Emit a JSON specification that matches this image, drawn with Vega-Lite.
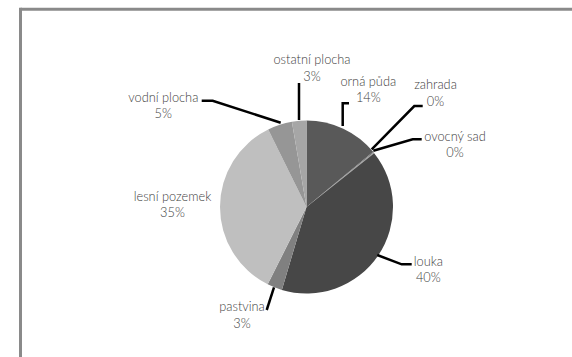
{
  "$schema": "https://vega.github.io/schema/vega-lite/v6.json",
  "width": 572,
  "height": 357,
  "autosize": {"type": "none"},
  "padding": 0,
  "background": "white",
  "config": {"view": {"stroke": null}},
  "datasets": {
    "slices": [
      {"order": 1, "category": "orná půda", "value": 14.0},
      {"order": 2, "category": "zahrada", "value": 0.15},
      {"order": 3, "category": "ovocný sad", "value": 0.15},
      {"order": 4, "category": "louka", "value": 40.3},
      {"order": 5, "category": "pastvina", "value": 2.8},
      {"order": 6, "category": "lesní pozemek", "value": 35.3},
      {"order": 7, "category": "vodní plocha", "value": 4.6},
      {"order": 8, "category": "ostatní plocha", "value": 2.7}
    ],
    "labels": [
      {"name": "ostatní plocha", "pct": "3%", "x": 5.5, "y": 138.5},
      {"name": "orná půda", "pct": "14%", "x": 61.8, "y": 117},
      {"name": "zahrada", "pct": "0%", "x": 129, "y": 113.7},
      {"name": "ovocný sad", "pct": "0%", "x": 148.5, "y": 62},
      {"name": "vodní plocha", "pct": "5%", "x": -143.2, "y": 101},
      {"name": "lesní pozemek", "pct": "35%", "x": -134, "y": 2},
      {"name": "louka", "pct": "40%", "x": 121.8, "y": -63},
      {"name": "pastvina", "pct": "3%", "x": -64.5, "y": -108.3}
    ],
    "leaders": [
      {"id": "ostatní plocha", "pt": 1, "x": -7.5, "y": 124},
      {"id": "ostatní plocha", "pt": 2, "x": -7.5, "y": 87},
      {"id": "orná půda", "pt": 1, "x": 42.5, "y": 103.7},
      {"id": "orná půda", "pt": 2, "x": 36.2, "y": 103.7},
      {"id": "orná půda", "pt": 3, "x": 36.2, "y": 81},
      {"id": "zahrada", "pt": 1, "x": 116.2, "y": 101},
      {"id": "zahrada", "pt": 2, "x": 107.8, "y": 101},
      {"id": "zahrada", "pt": 3, "x": 65.2, "y": 57.7},
      {"id": "ovocný sad", "pt": 1, "x": 115.2, "y": 67.7},
      {"id": "ovocný sad", "pt": 2, "x": 106.2, "y": 67.7},
      {"id": "ovocný sad", "pt": 3, "x": 66.8, "y": 56.3},
      {"id": "vodní plocha", "pt": 1, "x": -104.8, "y": 106.3},
      {"id": "vodní plocha", "pt": 2, "x": -93.8, "y": 106.3},
      {"id": "vodní plocha", "pt": 3, "x": -25.8, "y": 84.3},
      {"id": "louka", "pt": 1, "x": 105.2, "y": -57.3},
      {"id": "louka", "pt": 2, "x": 95.2, "y": -57.3},
      {"id": "louka", "pt": 3, "x": 70.8, "y": -48},
      {"id": "pastvina", "pt": 1, "x": -39.8, "y": -103},
      {"id": "pastvina", "pt": 2, "x": -32.5, "y": -80.3}
    ]
  },
  "layer": [
    {
      "data": {"values": [{}]},
      "mark": {"type": "rule", "color": "#8a8a8a", "strokeWidth": 3},
      "encoding": {
        "x": {"datum": -286, "type": "quantitative", "scale": {"domain": [-306.5, 265.5], "nice": false, "zero": false}, "axis": null},
        "x2": {"datum": 280},
        "y": {"datum": 197.7, "type": "quantitative", "scale": {"domain": [-150, 207], "nice": false, "zero": false}, "axis": null}
      }
    },
    {
      "data": {"values": [{}]},
      "mark": {"type": "rule", "color": "#8a8a8a", "strokeWidth": 3},
      "encoding": {
        "x": {"datum": -286, "type": "quantitative", "scale": {"domain": [-306.5, 265.5], "nice": false, "zero": false}, "axis": null},
        "y": {"datum": 199.2, "type": "quantitative", "scale": {"domain": [-150, 207], "nice": false, "zero": false}, "axis": null},
        "y2": {"datum": -160}
      }
    },
    {
      "data": {"name": "slices"},
      "mark": {"type": "arc", "outerRadius": 86.5},
      "encoding": {
        "theta": {"field": "value", "type": "quantitative", "stack": true},
        "order": {"field": "order", "type": "quantitative"},
        "color": {
          "field": "category",
          "type": "nominal",
          "scale": {
            "domain": ["orná půda", "zahrada", "ovocný sad", "louka", "pastvina", "lesní pozemek", "vodní plocha", "ostatní plocha"],
            "range": ["#595959", "#6e6e6e", "#9a9a9a", "#474747", "#808080", "#bfbfbf", "#969696", "#a6a6a6"]
          },
          "legend": null
        },
        "x": {"datum": 0, "type": "quantitative", "scale": {"domain": [-306.5, 265.5], "nice": false, "zero": false}, "axis": null},
        "y": {"datum": 0, "type": "quantitative", "scale": {"domain": [-150, 207], "nice": false, "zero": false}, "axis": null}
      }
    },
    {
      "data": {"name": "leaders"},
      "mark": {"type": "line", "color": "#000000", "strokeWidth": 2.5, "strokeCap": "butt", "strokeJoin": "miter"},
      "encoding": {
        "x": {"field": "x", "type": "quantitative", "scale": {"domain": [-306.5, 265.5], "nice": false, "zero": false}, "axis": null},
        "y": {"field": "y", "type": "quantitative", "scale": {"domain": [-150, 207], "nice": false, "zero": false}, "axis": null},
        "detail": {"field": "id", "type": "nominal"},
        "order": {"field": "pt", "type": "quantitative"}
      }
    },
    {
      "data": {"name": "labels"},
      "mark": {"type": "text", "font": "Lato", "fontWeight": 300, "fontSize": 12.8, "color": "#404040", "align": "center", "baseline": "middle", "dy": -8.3},
      "encoding": {
        "x": {"field": "x", "type": "quantitative", "scale": {"domain": [-306.5, 265.5], "nice": false, "zero": false}, "axis": null},
        "y": {"field": "y", "type": "quantitative", "scale": {"domain": [-150, 207], "nice": false, "zero": false}, "axis": null},
        "text": {"field": "name", "type": "nominal"}
      }
    },
    {
      "data": {"name": "labels"},
      "mark": {"type": "text", "font": "Lato", "fontWeight": 300, "fontSize": 12.8, "color": "#404040", "align": "center", "baseline": "middle", "dy": 8.3},
      "encoding": {
        "x": {"field": "x", "type": "quantitative", "scale": {"domain": [-306.5, 265.5], "nice": false, "zero": false}, "axis": null},
        "y": {"field": "y", "type": "quantitative", "scale": {"domain": [-150, 207], "nice": false, "zero": false}, "axis": null},
        "text": {"field": "pct", "type": "nominal"}
      }
    }
  ]
}
